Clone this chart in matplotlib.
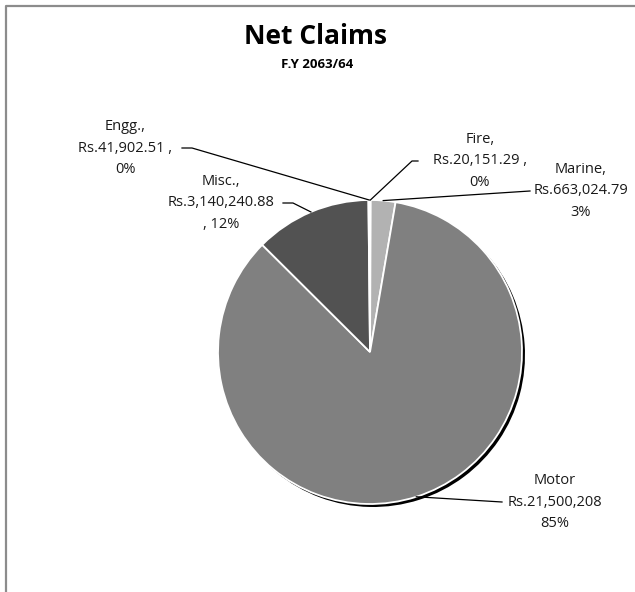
import numpy as np
import matplotlib.pyplot as plt

plt.rcParams['font.family'] = ['Open Sans', 'DejaVu Sans']

# data
categories = ["Fire", "Marine", "Motor", "Misc.", "Engg."]
values = [20151.29, 663024.79, 21500208, 3140240.88, 41902.51]
colors = ["#e8e8e8", "#b2b2b2", "#808080", "#525252", "#f4f4f4"]
labels = [
    "Fire,\nRs.20,151.29 ,\n0%",
    "Marine,\nRs.663,024.79\n3%",
    "Motor\nRs.21,500,208\n85%",
    "Misc.,\nRs.3,140,240.88\n, 12%",
    "Engg.,\nRs.41,902.51 ,\n0%",
]

W, H = 635, 592
cx, cy, r = 370, H - 352, 152

fig = plt.figure(figsize=(W / 100, H / 100), dpi=100)
ax = fig.add_axes([0, 0, 1, 1])

# shadow, then the pie itself
ax.pie(values, colors=["black"] * len(values), startangle=90, counterclock=False,
       center=(cx + 3, cy - 3), radius=r, wedgeprops=dict(linewidth=0))
wedges, _ = ax.pie(values, colors=colors, startangle=90, counterclock=False,
                   center=(cx, cy), radius=r,
                   wedgeprops=dict(edgecolor="white", linewidth=1.3))

ax.set_xlim(0, W)
ax.set_ylim(0, H)
ax.set_aspect("equal")
ax.axis("off")

# label positions (pixels from top-left) and leader start points
label_pos = {"Fire": (480, 161), "Marine": (581, 191), "Motor": (555, 502),
             "Misc.": (221, 203), "Engg.": (125, 148)}
leader_start = {"Fire": (418, 161), "Marine": (530, 191), "Motor": (502, 502),
                "Misc.": (283, 203), "Engg.": (182, 148)}

for cat, lab, w in zip(categories, labels, wedges):
    lx, ly = label_pos[cat]
    ax.text(lx, H - ly, lab, ha="center", va="center", fontsize=10.5,
            linespacing=1.6, color="#1a1a1a")
    mid = np.deg2rad((w.theta1 + w.theta2) / 2)
    px, py = cx + r * np.cos(mid), cy + r * np.sin(mid)
    sx, sy = leader_start[cat]
    if cat in ("Motor", "Marine"):
        ax.plot([sx, px], [H - sy, py], color="black", lw=0.9)
    elif cat == "Fire":
        ax.plot([sx, sx - 6, px], [H - sy, H - sy, py], color="black", lw=0.9)
    else:
        ax.plot([sx, sx + 10, px], [H - sy, H - sy, py], color="black", lw=0.9)

# title
ax.text(315, H - 37, "Net Claims", ha="center", va="center", fontsize=19,
        fontweight="bold")
ax.text(317, H - 64, "F.Y 2063/64", ha="center", va="center", fontsize=9.5,
        fontweight="bold")

# chart-area border (left and top edges visible)
ax.plot([6, 6, W + 5], [-5, H - 6, H - 6], color="#8c8c8c", lw=1.6,
        clip_on=False)

fig.savefig("out.png", dpi=100, facecolor="white")
